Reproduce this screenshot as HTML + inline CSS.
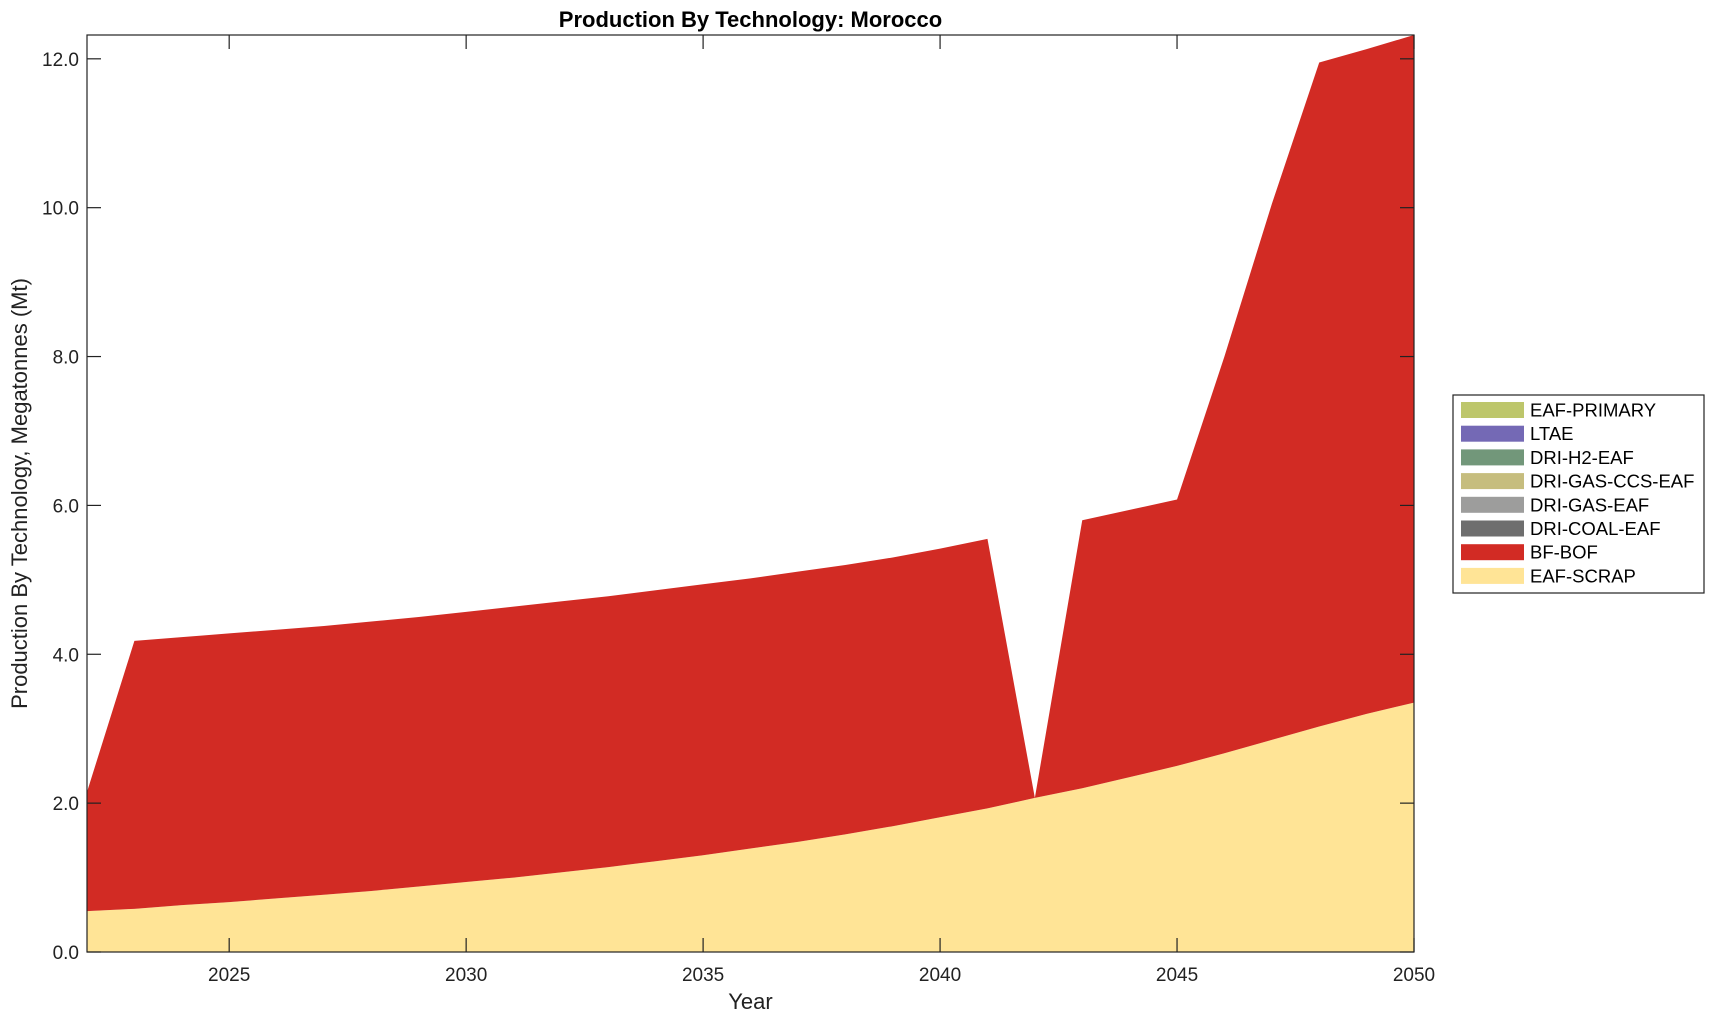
<!DOCTYPE html>
<html><head><meta charset="utf-8"><style>
body{margin:0;background:#fff;}
svg{display:block;font-family:"Liberation Sans",Arial,sans-serif;}
</style></head><body>
<svg id="chart" width="1715" height="1020"></svg>
<script>
const years=[2022,2023,2024,2025,2026,2027,2028,2029,2030,2031,2032,2033,2034,2035,2036,2037,2038,2039,2040,2041,2042,2043,2044,2045,2046,2047,2048,2049,2050];
const eafScrap=[0.55,0.58,0.63,0.67,0.72,0.77,0.82,0.88,0.94,1.0,1.07,1.14,1.22,1.30,1.39,1.48,1.58,1.69,1.81,1.93,2.07,2.2,2.35,2.5,2.67,2.85,3.03,3.2,3.35];
const bfBof=[1.60,3.60,3.60,3.61,3.61,3.61,3.62,3.62,3.63,3.64,3.64,3.64,3.64,3.64,3.63,3.63,3.62,3.61,3.61,3.62,0.0,3.6,3.59,3.58,5.33,7.2,8.92,8.93,8.97];
const yTicks=[0,2,4,6,8,10,12];
const xTicks=[2025,2030,2035,2040,2045,2050];
const legendNames=["EAF-PRIMARY","LTAE","DRI-H2-EAF","DRI-GAS-CCS-EAF","DRI-GAS-EAF","DRI-COAL-EAF","BF-BOF","EAF-SCRAP"];
const legendColors=["#bdc66b","#7469b5","#72977a","#c6bd7e","#9d9d9c","#6e6e6e","#d22b24","#ffe496"];

const L=87,R=1414,T=35,B=952,xmin=2022,xmax=2050,ymax=12.32;
const sx=v=>L+(v-xmin)/(xmax-xmin)*(R-L);
const sy=v=>B-v/ymax*(B-T);
const svg=document.getElementById('chart');
const NS='http://www.w3.org/2000/svg';
function mk(tag,attrs,parent){const e=document.createElementNS(NS,tag);for(const k in attrs)e.setAttribute(k,attrs[k]);(parent||svg).appendChild(e);return e;}

function area(lower,upper,color,name){
  let d='';
  years.forEach((y,i)=>{d+=(i?'L':'M')+sx(y)+','+sy(upper[i]);});
  for(let i=years.length-1;i>=0;i--)d+='L'+sx(years[i])+','+sy(lower[i]);
  const p=mk('path',{d:d+'Z',fill:color,stroke:'none'});
  
  
}
const zero=years.map(()=>0);
const top1=eafScrap.map((v,i)=>v+bfBof[i]);
area(zero,eafScrap,'#ffe496','area-eaf-scrap');
area(eafScrap,top1,'#d22b24','area-bf-bof');

const frame=mk('rect',{x:L,y:T,width:R-L,height:B-T,fill:'none',stroke:'#222','stroke-width':1.2});



yTicks.forEach(v=>{
  const y=sy(v);
  mk('line',{x1:L,x2:L+14,y1:y,y2:y,stroke:'#222','stroke-width':1.2});
  mk('line',{x1:R,x2:R-14,y1:y,y2:y,stroke:'#222','stroke-width':1.2});
  const t=mk('text',{x:L-8,y:y+7,'text-anchor':'end','font-size':19,fill:'#222'});
  t.textContent=v.toFixed(1);
  
  
});
xTicks.forEach(v=>{
  const x=sx(v);
  mk('line',{x1:x,x2:x,y1:B,y2:B-14,stroke:'#222','stroke-width':1.2});
  mk('line',{x1:x,x2:x,y1:T,y2:T+14,stroke:'#222','stroke-width':1.2});
  const t=mk('text',{x:x,y:981,'text-anchor':'middle','font-size':19,fill:'#222'});
  t.textContent=v;
  
  
});

const title=mk('text',{x:(L+R)/2,y:27,'text-anchor':'middle','font-size':22,'font-weight':'bold',fill:'#000'});
title.textContent='Production By Technology: Morocco';


const xl=mk('text',{x:(L+R)/2,y:1009,'text-anchor':'middle','font-size':22,fill:'#222'});
xl.textContent='Year';


const yl=mk('text',{x:0,y:0,'text-anchor':'middle','font-size':22,fill:'#222',transform:'translate(27,'+((T+B)/2)+') rotate(-90)'});
yl.textContent='Production By Technology, Megatonnes (Mt)';



const lg=mk('g',{});


mk('rect',{x:1453,y:395,width:251,height:198,fill:'#fff',stroke:'#222','stroke-width':1.2},lg);
legendNames.forEach((n,i)=>{
  const y=410+i*23.7;
  const g=mk('g',{},lg);
  
  
  mk('rect',{x:1461,y:y-8,width:63,height:16,fill:legendColors[i]},g);
  const t=mk('text',{x:1530,y:y+6.5,'font-size':18.5,fill:'#000'},g);
  t.textContent=n;
});
</script>
</body></html>
